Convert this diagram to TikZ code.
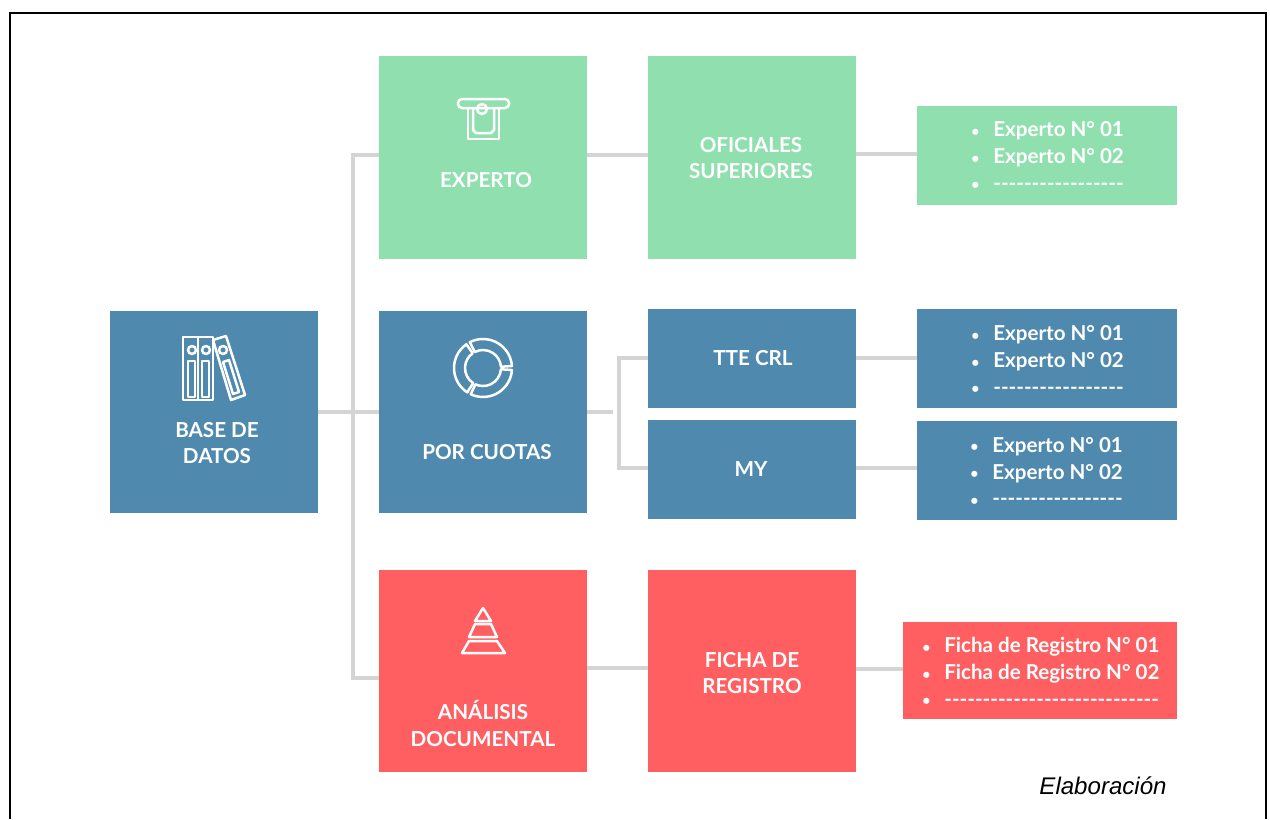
\documentclass[tikz,border=0pt]{standalone}
\usepackage{fontspec}
\usepackage{xcolor}
\setmainfont{Liberation Sans}
\newfontfamily\latofont{Lato}
\definecolor{mintbox}{HTML}{90E0AF}
\definecolor{steelbox}{HTML}{4F8AAE}
\definecolor{coralbox}{HTML}{FF5F61}
\definecolor{linkgray}{HTML}{D4D4D4}
\newdimen\pxu
\pxu=0.02cm
\newcommand{\rowmark}[1]{\makebox[23\pxu][l]{\hspace{1\pxu}\raisebox{0.5\pxu}{\fontsize{8pt}{8pt}\selectfont\textbullet}}#1}
\newcommand{\dashrow}[1]{\rowmark{\foreach \d in {1,...,#1}{-\kern0pt}}}
\tikzset{every tree box/.style={draw=none,inner sep=0pt,outer sep=0pt},
 box/.style={every tree box,minimum width=208*0.02cm,minimum height=202.5*0.02cm},
 halfbox/.style={every tree box,minimum width=208*0.02cm,minimum height=99*0.02cm},
 listbox/.style={every tree box,minimum width=260*0.02cm,minimum height=99*0.02cm},
 mint/.style={fill=mintbox},
 steel/.style={fill=steelbox},
 coral/.style={fill=coralbox},
 boxtext/.style={text=white,font=\latofont\bfseries\fontsize{11.75pt}{15.2pt}\selectfont,align=center,inner sep=0pt},
 listtext/.style={text=white,font=\latofont\bfseries\fontsize{11.7pt}{15.2pt}\selectfont,align=left,anchor=west,inner sep=0pt},
 link/.style={draw=linkgray,line width=0.08cm},
 icon/.style={draw=white,line width=0.05cm,line join=round},
 }

\begin{document}
\begin{tikzpicture}[x=0.02cm,y=-0.02cm]
        \useasboundingbox (0,0) rectangle (1270,819);
        \draw [line width=0.04cm] (10,819) -- (10,13) -- (1266,13) -- (1266,819);

        \node [box,steel] (base) at (214,412) {};
        \node [box,mint] (experto) at (483,157.5) {};
        \node [box,mint] (oficiales) at (752,157.5) {};
        \node [listbox,mint] (listexperto) at (1047,155.5) {};
        \node [box,steel] (cuotas) at (483,412) {};
        \node [halfbox,steel] (tte) at (752,358.5) {};
        \node [halfbox,steel] (my) at (752,469.5) {};
        \node [listbox,steel] (listtte) at (1047,358.5) {};
        \node [listbox,steel] (listmy) at (1047,470.5) {};
        \node [box,coral] (analisis) at (483,671) {};
        \node [box,coral] (ficha) at (752,671) {};
        \node [every tree box,coral,minimum width=274*0.02cm,minimum height=97*0.02cm] (listficha) at (1040,670.5) {};

        \coordinate (trunktop) at (353,155);
        \coordinate (trunkbot) at (353,678);
        \coordinate (cuotasend) at (613,412);
        \coordinate (forktop) at (619,358);
        \coordinate (forkbot) at (619,468);

        \draw [link] (base) -- (cuotas);
        \draw [link] (experto.west |- trunktop) -- (trunktop) -- (trunkbot) -- (analisis.west |- trunkbot);
        \draw [link] (experto.east |- trunktop) -- (oficiales.west |- trunktop);
        \draw [link] (oficiales.east |- 0,154) -- (listexperto.west |- 0,154);
        \draw [link] (cuotas.east) -- (cuotasend);
        \draw [link] (tte.west |- forktop) -- (forktop) -- (forkbot) -- (my.west |- forkbot);
        \draw [link] (tte.east |- forktop) -- (listtte.west |- forktop);
        \draw [link] (my.east |- forkbot) -- (listmy.west |- forkbot);
        \draw [link] (analisis.east |- 0,668) -- (ficha.west |- 0,668);
        \draw [link] (ficha.east |- 0,669) -- (listficha.west |- 0,669);

        \node [boxtext] (baselabel) at (217,443) {BASE DE\\DATOS};
        \node [boxtext] (expertolabel) at (486,180.5) {EXPERTO};
        \node [boxtext] (oficialeslabel) at (751,158) {OFICIALES\\SUPERIORES};
        \node [boxtext] (cuotaslabel) at (487,452.5) {POR CUOTAS};
        \node [boxtext] (ttelabel) at (753,358.5) {TTE CRL};
        \node [boxtext] (mylabel) at (751,469.5) {MY};
        \node [boxtext] (analisislabel) at (483,723.5) {ANÁLISIS\\DOCUMENTAL};
        \node [boxtext] (fichalabel) at (752,673) {FICHA DE\\REGISTRO};

        \node [listtext] (rowsexperto) at (970,156) {\rowmark{Experto N° 01}\\\rowmark{Experto N° 02}\\\dashrow{17}};
        \node [listtext] (rowstte) at (970,360) {\rowmark{Experto N° 01}\\\rowmark{Experto N° 02}\\\dashrow{17}};
        \node [listtext] (rowsmy) at (969,471.5) {\rowmark{Experto N° 01}\\\rowmark{Experto N° 02}\\\dashrow{17}};
        \node [listtext] (rowsficha) at (921,672) {\rowmark{Ficha de Registro N° 01}\\\rowmark{Ficha de Registro N° 02}\\\dashrow{28}};

        \node [font=\itshape\fontsize{13.7pt}{16pt}\selectfont,inner sep=0pt] (elaboracion) at (1103,786) {Elaboración};

        \draw [icon,rounded corners=0.08cm] (458,99) rectangle (509,108);
        \draw [icon] (468,108) -- (468,139) -- (499,139) -- (499,108);
        \draw [icon] (473,108) -- (473,130) -- (476,133) -- (491,133) -- (494,130) -- (494,108);
        \draw [icon] (482,109) circle (5);

        \draw [icon] (183,337) rectangle (198,400);
        \draw [icon] (198,337) rectangle (213,400);
        \draw [icon] (213,340) -- (226,336) -- (245,395) -- (231,400) -- cycle;
        \draw [icon] (192,350) circle (4);
        \draw [icon] (206,350) circle (4);
        \draw [icon] (223,350) circle (4);
        \draw [icon] (188,361) rectangle (195,397);
        \draw [icon] (202,361) rectangle (209,397);
        \draw [icon] (223,362) -- (229,360) -- (239,392) -- (233,394) -- cycle;

        \begin{scope}[shift={(483,368)},y=0.02cm]
            \foreach \from/\to in {4/117,125/237,245/356}
                \draw [icon] (\from:29) arc [start angle=\from,end angle=\to,radius=29] -- (\to:18) arc [start angle=\to,end angle=\from,radius=18] -- cycle;
        \end{scope}

        \draw [icon] (483,608) -- (475,621) -- (491,621) -- cycle;
        \draw [icon] (475,624) -- (491,624) -- (497,637) -- (469,637) -- cycle;
        \draw [icon] (469,641) -- (497,641) -- (505,653) -- (462,653) -- cycle;
    \end{tikzpicture}
\end{document}
